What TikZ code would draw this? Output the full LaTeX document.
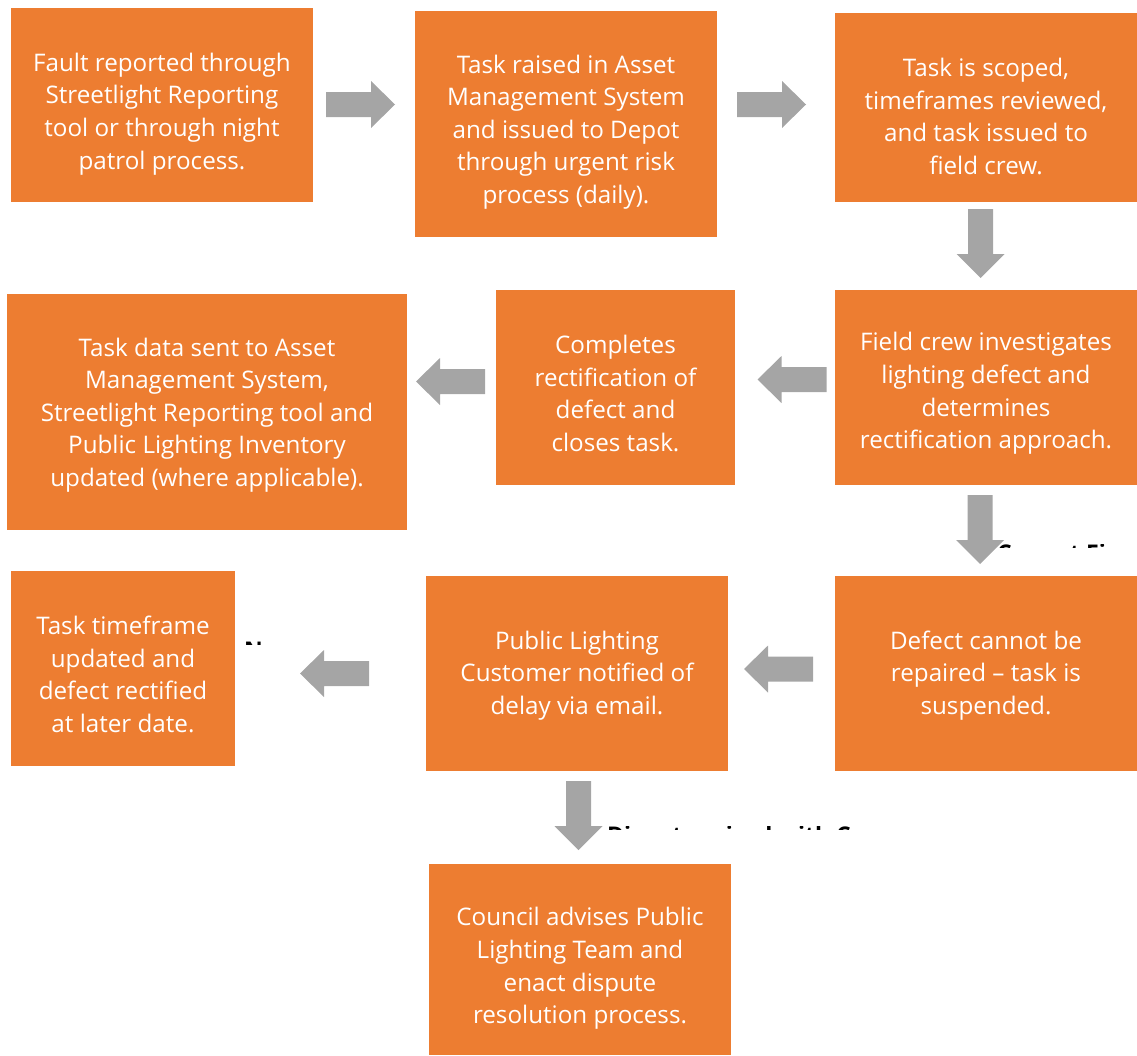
\documentclass[tikz,border=0pt]{standalone}
\usepackage{fontspec}
\setmainfont{Open Sans}
\definecolor{boxorange}{HTML}{ED7D31}
\definecolor{arrowgray}{HTML}{A5A5A5}
\tikzset{
  x=1pt, y=-1pt,
  box/.style={fill=boxorange, draw=none, inner sep=0pt},
  boxtext/.style={text=white, align=center, inner sep=0pt,
    font=\fontsize{24.2}{32.6}\selectfont},
  blk/.style={fill=arrowgray, draw=none},
  frag/.style={text=black, inner sep=0pt, anchor=base west, font=\fontsize{23}{28}\selectfont\bfseries},
  rarr/.pic={\fill[blk] (-34.5,-12.5) -- (10.5,-12.5) -- (10.5,-23.5) -- (34.5,0) -- (10.5,23.5) -- (10.5,12.5) -- (-34.5,12.5) -- cycle;},
  larr/.pic={\fill[blk] (34.5,-12.5) -- (-10.5,-12.5) -- (-10.5,-23.5) -- (-34.5,0) -- (-10.5,23.5) -- (-10.5,12.5) -- (34.5,12.5) -- cycle;},
  darr/.pic={\fill[blk] (-12.5,-34.5) -- (12.5,-34.5) -- (12.5,10.5) -- (24,10.5) -- (0,34.5) -- (-24,10.5) -- (-12.5,10.5) -- cycle;},
}
\begin{document}
\begin{tikzpicture}
\useasboundingbox (0,0) rectangle (1137,1055);
% boxes
\node[box, minimum width=302pt, minimum height=194pt] (b1) at (162,105) {};
\node[box, minimum width=302pt, minimum height=226pt] (b2) at (566,124) {};
\node[box, minimum width=302pt, minimum height=189pt] (b3) at (986,107.5) {};
\node[box, minimum width=400pt, minimum height=236pt] (b4) at (207,412) {};
\node[box, minimum width=239pt, minimum height=195pt] (b5) at (615.5,387.5) {};
\node[box, minimum width=302pt, minimum height=195pt] (b6) at (986,387.5) {};
\node[box, minimum width=224pt, minimum height=195pt] (b7) at (123,668.5) {};
\node[box, minimum width=302pt, minimum height=195pt] (b8) at (577,673.5) {};
\node[box, minimum width=302pt, minimum height=195pt] (b9) at (986,673.5) {};
\node[box, minimum width=302pt, minimum height=191pt] (b10) at (580,959.5) {};
% texts
\node[boxtext] (t1) at ([yshift=-9pt]b1.center) {Fault reported through\\Streetlight Reporting\\tool or through night\\patrol process.};
\node[boxtext] (t2) at ([yshift=-8pt]b2.center) {Task raised in Asset\\Management System\\and issued to Depot\\through urgent risk\\process (daily).};
\node[boxtext] (t3) at ([yshift=-9pt]b3.center) {Task is scoped,\\timeframes reviewed,\\and task issued to\\field crew.};
\node[boxtext] (t4) at ([yshift=-3pt]b4.center) {Task data sent to Asset\\Management System,\\Streetlight Reporting tool and\\Public Lighting Inventory\\updated (where applicable).};
\node[boxtext] (t5) at ([yshift=-6pt]b5.center) {Completes\\rectification of\\defect and\\closes task.};
\node[boxtext] (t6) at ([yshift=-6pt]b6.center) {Field crew investigates\\lighting defect and\\determines\\rectification approach.};
\node[boxtext] (t7) at ([yshift=-6pt]b7.center) {Task timeframe\\updated and\\defect rectified\\at later date.};
\node[boxtext] (t8) at ([yshift=-2pt]b8.center) {Public Lighting\\Customer notified of\\delay via email.};
\node[boxtext] (t9) at ([yshift=-2pt]b9.center) {Defect cannot be\\repaired -- task is\\suspended.};
\node[boxtext] (t10) at ([yshift=-9pt]b10.center) {Council advises Public\\Lighting Team and\\enact dispute\\resolution process.};
% block arrows
\pic at (360.5,104.5) {rarr};
\pic at (771.5,104.5) {rarr};
\pic at (980.5,243.5) {darr};
\pic at (792,379.5) {larr};
\pic at (450.5,381.5) {larr};
\pic at (980,529.5) {darr};
\pic at (778.5,669) {larr};
\pic at (334.5,673.5) {larr};
\pic at (578.5,815.5) {darr};
% clipped label fragments
\begin{scope}
\clip (995,544) rectangle (1137,547.5);
\node[frag] (f1) at (997,561) {Cannot Fix};
\end{scope}
\begin{scope}
\clip (240,641) rectangle (300,644.5);
\node[frag] (f2) at (244,658) {No};
\end{scope}
\begin{scope}
\clip (605,826) rectangle (860,829.5);
\node[frag] (f3) at (607,843) {Dispute raised with Council};
\end{scope}
\end{tikzpicture}
\end{document}
